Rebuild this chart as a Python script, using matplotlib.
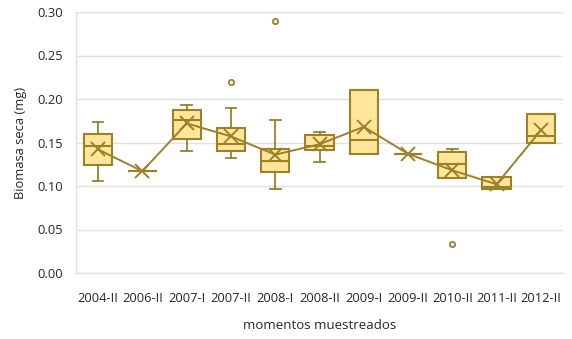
import matplotlib
matplotlib.use("Agg")
import matplotlib.pyplot as plt

plt.rcParams['font.family'] = ['Open Sans', 'DejaVu Sans']

categories = ["2004-II", "2006-II", "2007-I", "2007-II", "2008-I", "2008-II",
              "2009-I", "2009-II", "2010-II", "2011-II", "2012-II"]
whislo = [0.106, 0.117, 0.140, 0.132, 0.096, 0.128, 0.137, 0.137, 0.109, 0.097, 0.150]
q1     = [0.124, 0.117, 0.154, 0.140, 0.116, 0.141, 0.137, 0.137, 0.109, 0.097, 0.150]
median = [0.146, 0.117, 0.176, 0.148, 0.129, 0.146, 0.153, 0.137, 0.125, 0.099, 0.157]
q3     = [0.160, 0.117, 0.187, 0.167, 0.143, 0.159, 0.210, 0.137, 0.139, 0.110, 0.183]
whishi = [0.174, 0.117, 0.193, 0.190, 0.176, 0.162, 0.210, 0.137, 0.142, 0.110, 0.183]
mean   = [0.142, 0.117, 0.172, 0.157, 0.136, 0.148, 0.168, 0.137, 0.118, 0.102, 0.164]
outliers = [[], [], [], [0.220], [0.290], [], [], [], [0.033], [], []]

edge = "#9C8128"
fill = "#FFE699"
text_color = "#262626"

fig = plt.figure(figsize=(5.72, 3.39), dpi=100)
ax = fig.add_axes([76 / 572, 1 - 273 / 339, 487 / 572, 261 / 339])

stats = []
for i, name in enumerate(categories):
    stats.append(dict(label=name, whislo=whislo[i], q1=q1[i], med=median[i],
                      q3=q3[i], whishi=whishi[i], mean=mean[i], fliers=outliers[i]))

pos = list(range(1, len(categories) + 1))
ax.bxp(stats, positions=pos, widths=0.64, patch_artist=True, showmeans=False,
       boxprops=dict(facecolor=fill, edgecolor=edge, linewidth=1.5),
       medianprops=dict(color=edge, linewidth=1.5),
       whiskerprops=dict(color=edge, linewidth=1.3),
       capprops=dict(color=edge, linewidth=1.3),
       capwidths=0.24,
       flierprops=dict(marker='o', markersize=3.8, markerfacecolor='none',
                       markeredgecolor=edge, markeredgewidth=1.3),
       zorder=3)

ax.plot(pos, mean, color=edge, linewidth=1.4, marker='x', markersize=10,
        markeredgewidth=1.4, zorder=4)

ax.set_xlim(0.5, len(categories) + 0.5)
ax.set_ylim(0, 0.30)
ax.set_yticks([0.0, 0.05, 0.10, 0.15, 0.20, 0.25, 0.30])
ax.set_yticklabels([f"{v:.2f}" for v in ax.get_yticks()])
ax.set_xticks(pos)
ax.set_xticklabels(categories)
ax.tick_params(axis='both', length=0, labelsize=9.3, colors=text_color)
ax.tick_params(axis='x', pad=14)
ax.tick_params(axis='y', pad=9)
ax.grid(axis='y', color="#E0E0E0", linewidth=1.0, zorder=0)
ax.set_axisbelow(True)
for s in ["top", "right"]:
    ax.spines[s].set_visible(False)
for s in ["left", "bottom"]:
    ax.spines[s].set_color("#E0E0E0")
    ax.spines[s].set_linewidth(1.0)

ax.set_ylabel("Biomasa seca (mg)", fontsize=9.3, color=text_color, labelpad=8)
ax.set_xlabel("momentos muestreados", fontsize=9.5, color=text_color, labelpad=10)

fig.savefig("out.png", dpi=100)
